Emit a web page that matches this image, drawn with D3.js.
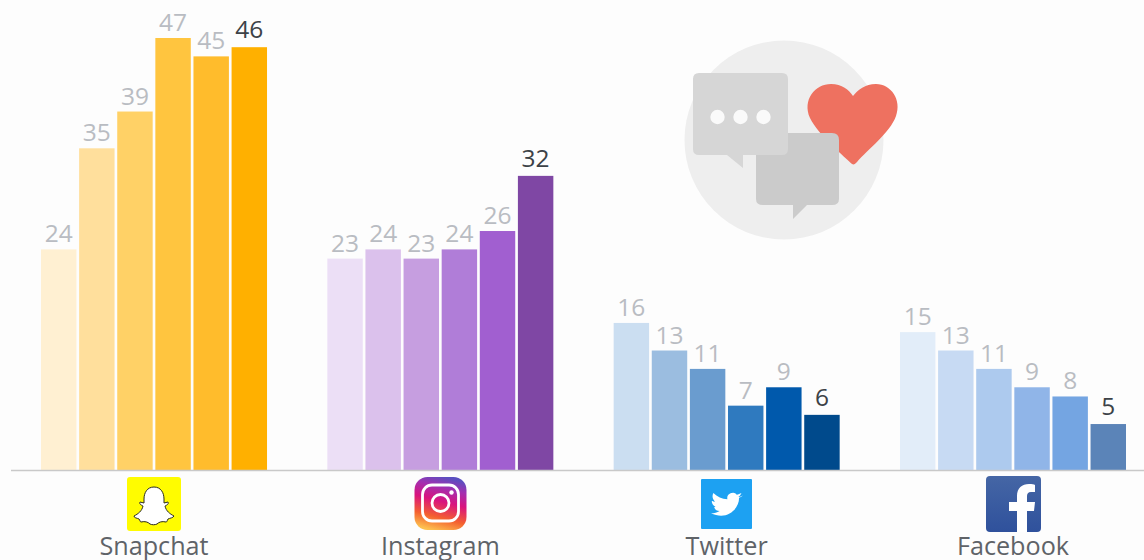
<!DOCTYPE html>
<html><head><meta charset="utf-8">
<script src="https://cdn.jsdelivr.net/npm/d3@7/dist/d3.min.js"></script>
<style>html,body{margin:0;padding:0;background:#fdfdfd;overflow:hidden}svg{display:block}text{font-family:"Open Sans",sans-serif}</style>
</head><body><svg id="c" width="1144" height="560"></svg>
<script>
const categories = ["Snapchat","Instagram","Twitter","Facebook"];
const periods = [0,1,2,3,4,5];
const snapchat = [24,35,39,47,45,46];
const instagram = [23,24,23,24,26,32];
const twitter = [16,13,11,7,9,6];
const facebook = [15,13,11,9,8,5];
const snapchatColors = ["#fff0d2","#ffdf9c","#ffd166","#ffc53f","#ffbc2c","#ffb000"];
const instagramColors = ["#ecdff6","#dbc1ec","#c69ee0","#b07dd8","#a15fd0","#7f47a4"];
const twitterColors = ["#cbdef1","#9bbde0","#6a9ccf","#2f7abf","#0059ac","#004a8c"];
const facebookColors = ["#e2edf9","#c7daf3","#adcaee","#90b5e8","#74a5e2","#5b84b8"];
const seriesValues = [snapchat,instagram,twitter,facebook];
const seriesColors = [snapchatColors,instagramColors,twitterColors,facebookColors];

const svg = d3.select("#c");
const x0 = d3.scaleBand().domain(categories).range([41,1126]).paddingInner(0.2106).paddingOuter(0);
const x1 = d3.scaleBand().domain(periods).range([0,x0.bandwidth()]).paddingInner(0.07).paddingOuter(0);
const y = d3.scaleLinear().domain([0,47]).range([470,38]);

// illustration
const ill = svg.append("g");
ill.append("circle").attr("cx",784).attr("cy",140).attr("r",99.5).attr("fill","#eeeeee");
ill.append("path").attr("fill","#ee7160")
  .attr("d","M852 164 C846 158 818 135 810 118 C802 100 815 84 831 84 C842 84 849 90 853 96 C858 90 865 84 876 84 C891 84 902 100 896 116 C890 133 868 149 857 162 C855 164 854 165 852 164 Z");
ill.append("path").attr("fill","#cbcbcb")
  .attr("d","M763 133 H832 Q839 133 839 140 V199 Q839 205 832 205 H807 L793 219 V205 H763 Q756 205 756 199 V140 Q756 133 763 133 Z");
ill.append("path").attr("fill","#d6d6d6")
  .attr("d","M699 73 H782 Q788 73 788 79 V149 Q788 155 782 155 H743 L743 168 L727 155 H699 Q693 155 693 149 V79 Q693 73 699 73 Z");
ill.selectAll("circle.dot").data([717.5,740.5,763.5]).join("circle").attr("class","dot")
  .attr("cx",d=>d).attr("cy",117).attr("r",7.2).attr("fill","#fafafa");

// bars and labels
categories.forEach((cat,i)=>{
  const g = svg.append("g").attr("transform",`translate(${x0(cat)},0)`);
  const vals = seriesValues[i];
  g.selectAll("rect").data(vals).join("rect")
    .attr("x",(d,j)=>x1(periods[j])).attr("width",x1.bandwidth())
    .attr("y",d=>y(d)).attr("height",d=>y(0)-y(d))
    .attr("fill",(d,j)=>seriesColors[i][j]);
  g.selectAll("text").data(vals).join("text")
    .attr("x",(d,j)=>x1(periods[j])+x1.bandwidth()/2).attr("y",(d,j)=>y(d)-(j===5?9:7))
    .attr("text-anchor","middle").attr("font-size",24.5)
    .attr("fill",(d,j)=>j===5?"#3c4247":"#b9bcc2").text(d=>d);
});

// baseline
svg.append("line").attr("x1",11).attr("x2",1144).attr("y1",470.5).attr("y2",470.5).attr("stroke","#c9c9c9").attr("stroke-width",1.6);

// category labels
svg.selectAll("text.cat").data(categories).join("text").attr("class","cat")
  .attr("x",d=>x0(d)+x0.bandwidth()/2).attr("y",555).attr("text-anchor","middle")
  .attr("font-size",25.2).attr("fill","#5f6368").text(d=>d);

// icons
const defs = svg.append("defs");
const ig = defs.append("linearGradient").attr("id","ig").attr("x1","0.35").attr("y1","1").attr("x2","0.6").attr("y2","0");
[["0","#fdc04f"],["0.25","#f4602f"],["0.55","#d9137e"],["0.8","#a32fb0"],["1","#5a4fc0"]].forEach(s=>ig.append("stop").attr("offset",s[0]).attr("stop-color",s[1]));
const fb = defs.append("linearGradient").attr("id","fb").attr("x1","0").attr("y1","0").attr("x2","0").attr("y2","1");
fb.append("stop").attr("offset","0").attr("stop-color","#4566a5");
fb.append("stop").attr("offset","1").attr("stop-color","#2f519c");

// Snapchat
svg.append("rect").attr("x",127).attr("y",477).attr("width",54).attr("height",54).attr("rx",3).attr("fill","#fffc00");
svg.append("path").attr("fill","#fff").attr("stroke","#2a2a20").attr("stroke-width",1)
  .attr("d","M154 487 C161 487 164 493 164 499 L164 503 L168 502 C169 504 167 505 165 506 C166 511 170 514 174 516 C173 518 170 518 168 519 C167 521 167 522 166 522 C162 521 159 522 157 524 C155 525 152 525 150 524 C148 522 145 521 141 522 C140 522 140 520 139 519 C137 518 134 518 134 516 C138 514 142 511 143 506 C141 505 139 504 140 502 L144 503 L144 499 C144 493 147 487 154 487 Z");

// Instagram
svg.append("rect").attr("x",414.5).attr("y",477).attr("width",52).attr("height",53).attr("rx",13).attr("fill","url(#ig)");
svg.append("rect").attr("x",422.5).attr("y",485).attr("width",36).attr("height",36).attr("rx",9.5).attr("fill","none").attr("stroke","#fff").attr("stroke-width",2.8);
svg.append("circle").attr("cx",440.5).attr("cy",503).attr("r",8.5).attr("fill","none").attr("stroke","#fff").attr("stroke-width",2.8);
svg.append("circle").attr("cx",451.5).attr("cy",492.5).attr("r",2.2).attr("fill","#fff");

// Twitter
svg.append("rect").attr("x",701).attr("y",479).attr("width",51).attr("height",50).attr("rx",1).attr("fill","#1da1f2");
svg.append("path").attr("fill","#fff").attr("transform","translate(727,504) scale(0.78) translate(-727.5,-502)")
  .attr("d","M748 491 C746 492 744 493 742 493 C744 492 745 490 746 488 C744 489 742 490 740 490 C738 488 736 487 734 488 C730 488 727 492 728 496 C721 496 715 493 710 488 C708 492 709 496 712 499 C711 499 709 498 708 498 C708 502 711 505 714 506 C713 506 712 506 711 506 C712 509 714 511 718 511 C715 513 711 514 707 514 C711 516 716 517 720 517 C733 517 743 506 743 494 C745 493 747 492 748 491 Z");

// Facebook
svg.append("rect").attr("x",986).attr("y",476).attr("width",55).attr("height",56).attr("rx",4).attr("fill","url(#fb)");
svg.append("path").attr("fill","#fff")
  .attr("d","M1017 532 V511 H1009 V502 H1017 V496 C1017 488 1022 484 1029 484 C1032 484 1034 484 1035 485 V492 H1031 C1028 492 1027 494 1027 496 V502 H1035 L1034 511 H1027 V532 Z");
</script></body></html>
